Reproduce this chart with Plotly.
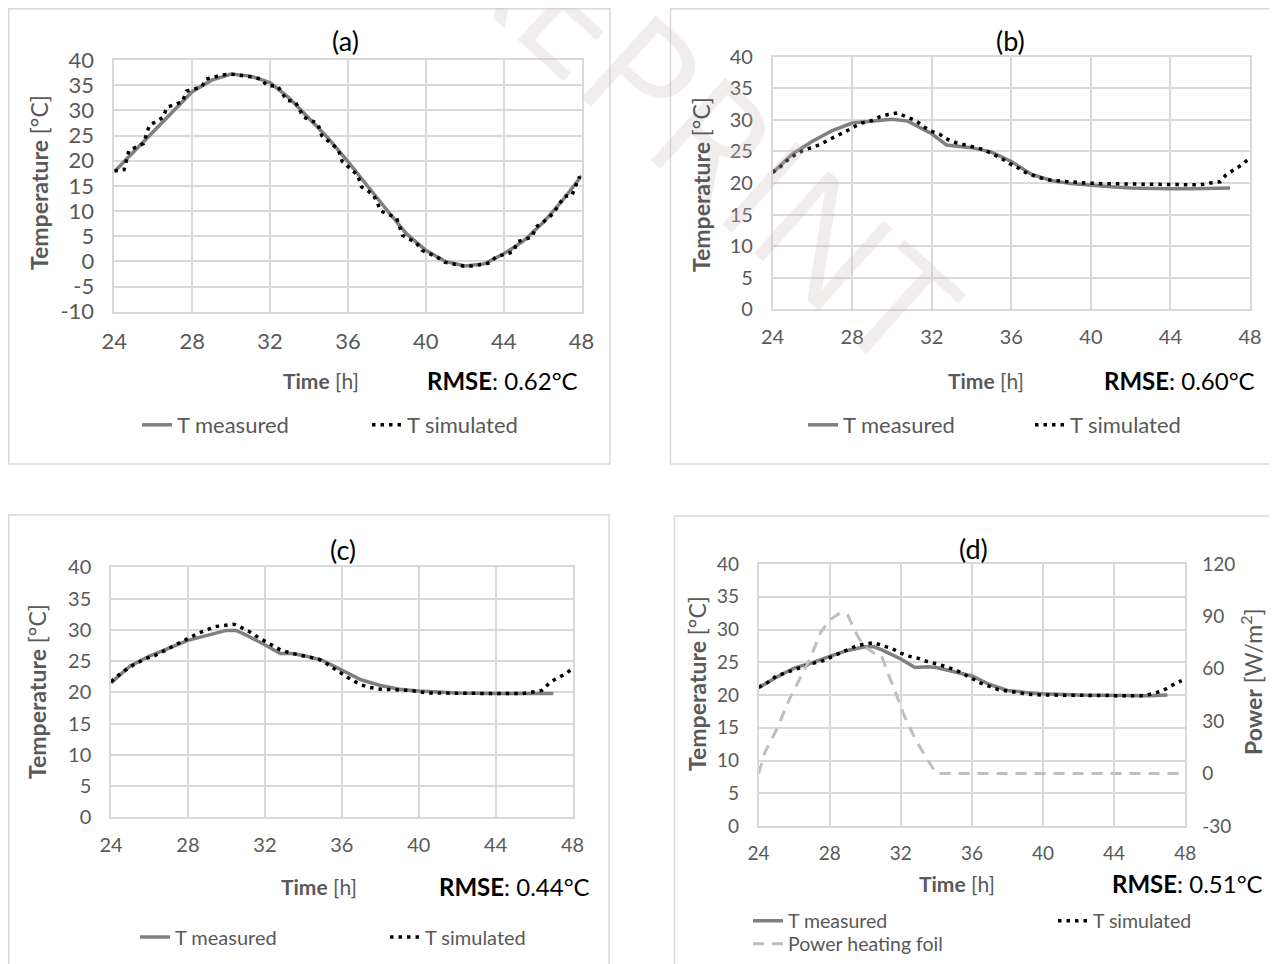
import plotly.graph_objects as go

# The page body has an 8px margin, so the figure is drawn 8px in and the
# reference pixel positions are shifted by OFF below.
OFF = 8
W, H = 1269, 956
FONT = "Lato, Calibri, 'Open Sans', sans-serif"
GRID = "#d9d9d9"
TXT = "#595959"
MEAS_C = "#808080"
SIM_C = "#000000"
POW_C = "#bfbfbf"

# ---------------- data ----------------
time_ticks = [24, 28, 32, 36, 40, 44, 48]
temp_ticks_a = [-10, -5, 0, 5, 10, 15, 20, 25, 30, 35, 40]
temp_ticks = [0, 5, 10, 15, 20, 25, 30, 35, 40]
power_ticks = [-30, 0, 30, 60, 90, 120]

# (a)
a_meas_t = [24, 25, 26, 27, 28, 29, 30, 31, 32, 33, 34, 35, 36, 37, 38, 39, 40, 41, 42, 43, 44, 45, 46, 47, 48]
a_meas = [17.8, 21.8, 25.7, 29.7, 33.7, 36.0, 37.2, 36.8, 35.5, 32.4, 28.4, 24.4, 19.8, 14.9, 10.2, 5.5, 2.2, 0.0,
          -0.9, -0.5, 1.5, 4.0, 7.6, 12.0, 17.0]
a_sim_t = [24.0, 24.5, 24.75, 25.5, 25.8, 26.5, 26.7, 27.5, 27.7, 28.5, 28.7, 29.5, 30.0, 30.6, 31.1, 31.55, 31.85,
           32.4, 32.85, 33.3, 33.7, 34.45, 34.65, 35.5, 35.7, 36.5, 36.7, 37.3, 37.7, 38.5, 38.8, 39.5, 39.8, 40.55,
           41.0, 41.9, 42.45, 43.3, 43.6, 44.5, 44.7, 45.45, 45.65, 46.3, 46.6, 47.1, 47.5, 47.9]
a_sim = [18.0, 18.2, 22.0, 23.4, 27.0, 28.6, 30.6, 31.7, 33.8, 34.7, 36.2, 37.0, 37.2, 36.9, 36.6, 36.2, 34.9,
         34.8, 32.0, 31.7, 28.7, 27.4, 25.0, 22.2, 19.9, 17.1, 14.8, 13.3, 10.0, 8.6, 5.2, 3.7, 2.2, 0.9,
         -0.2, -0.9, -0.9, -0.3, 0.9, 1.9, 3.9, 4.8, 6.8, 8.6, 9.8, 12.9, 13.1, 16.9]

# (b)
b_meas_t = [24, 25, 26, 27, 28, 29, 30, 30.8, 32, 32.75, 34, 35, 36, 37, 38, 39, 40, 41, 42, 43, 44, 45, 46, 47]
b_meas = [21.6, 24.6, 26.6, 28.3, 29.5, 29.8, 30.1, 29.8, 27.8, 26.0, 25.6, 24.9, 23.4, 21.4, 20.4, 19.9, 19.6,
          19.4, 19.2, 19.1, 19.1, 19.1, 19.2, 19.2]
b_sim_t = [24.0, 24.4, 24.7, 25.1, 25.5, 26.0, 26.4, 26.8, 27.3, 27.7, 28.1, 28.5, 29.0, 29.4, 29.8, 30.3, 30.7,
           31.2, 31.5, 31.9, 32.4, 32.8, 33.2, 33.7, 34.1, 34.6, 35.0, 35.5, 35.9, 36.4, 36.8, 37.2, 37.7, 38.1,
           38.7, 39.2, 39.7, 40.5, 42.0, 44.0, 45.5, 46.0, 46.5, 46.8, 47.2, 47.6, 48.0]
b_sim = [21.7, 22.6, 23.5, 24.4, 25.1, 25.7, 26.1, 26.8, 27.5, 28.2, 28.9, 29.5, 29.9, 30.5, 30.85, 31.1, 30.5,
         29.9, 29.1, 28.3, 27.7, 26.9, 26.4, 26.0, 25.65, 25.3, 24.7, 23.9, 23.1, 22.3, 21.5, 21.1, 20.6, 20.4,
         20.2, 20.1, 20.0, 19.9, 19.8, 19.7, 19.7, 20.0, 20.2, 21.3, 22.1, 22.9, 24.0]

# (c)
c_meas_t = [24, 25, 26, 27, 28, 29, 30, 30.5, 31, 32, 32.8, 33.4, 34, 35, 36, 37, 38, 39, 40, 41, 42, 44, 46, 47]
c_meas = [21.5, 24.2, 25.8, 27.0, 28.3, 29.1, 29.9, 29.9, 29.2, 27.6, 26.2, 26.2, 25.9, 25.1, 23.6, 22.0, 21.1,
          20.5, 20.2, 20.0, 19.9, 19.8, 19.8, 19.8]
c_sim_t = [24.0, 24.5, 25.0, 25.4, 25.8, 26.3, 26.7, 27.1, 27.6, 28.0, 28.5, 28.95, 29.4, 29.9, 30.4, 30.75, 31.2,
           31.6, 32.0, 32.4, 32.8, 33.3, 33.8, 34.3, 34.8, 35.2, 35.6, 36.1, 36.5, 37.0, 37.4, 38.0, 39.5, 40.5,
           42.0, 44.0, 45.4, 45.9, 46.4, 46.8, 47.1, 47.6, 48.0]
c_sim = [21.7, 23.0, 24.1, 24.7, 25.4, 25.9, 26.5, 27.1, 27.9, 28.6, 29.4, 29.9, 30.5, 30.7, 30.9, 30.4, 29.7,
         28.9, 28.2, 27.6, 26.8, 26.3, 26.0, 25.7, 25.3, 24.6, 23.8, 22.8, 22.0, 21.2, 20.8, 20.5, 20.3, 19.9,
         19.8, 19.8, 19.8, 20.0, 20.3, 21.5, 22.1, 22.9, 23.8]

# (d)
d_meas_t = [24, 25, 26, 27, 28, 29, 30, 30.5, 31, 32, 32.8, 33.5, 34, 35, 36, 37, 38, 39, 40, 42, 44, 46, 47]
d_meas = [21.1, 22.7, 24.1, 24.9, 25.9, 26.8, 27.35, 27.35, 26.8, 25.5, 24.2, 24.3, 24.2, 23.6, 22.9, 21.6, 20.7,
          20.4, 20.2, 20.0, 19.9, 19.9, 20.0]
d_sim_t = [24.0, 24.5, 25.0, 25.5, 26.0, 26.5, 27.0, 27.5, 28.0, 28.5, 29.0, 29.5, 30.0, 30.5, 31.0, 31.5, 32.0,
           32.5, 33.0, 33.5, 34.1, 34.6, 35.1, 35.6, 36.1, 36.5, 37.0, 37.5, 38.0, 38.6, 39.2, 40.0, 42.0, 44.0,
           45.7, 46.2, 46.7, 47.2, 47.8]
d_sim = [21.2, 21.9, 22.9, 23.4, 23.9, 24.4, 24.8, 25.1, 25.7, 26.4, 27.0, 27.5, 27.8, 28.0, 27.5, 27.1, 26.4,
         25.9, 25.6, 25.1, 24.7, 24.3, 23.8, 23.1, 22.3, 21.8, 21.3, 20.8, 20.6, 20.3, 20.1, 20.0, 19.9, 19.9,
         19.9, 20.2, 20.6, 21.4, 22.2]
d_pow_t = [24.0, 24.35, 25.0, 25.75, 26.4, 26.9, 27.5, 28.0, 28.6, 29.0, 29.45, 29.9, 30.5, 30.9, 31.25, 31.65,
           32.2, 32.8, 33.5, 34.0, 48.0]
d_pow = [0, 12, 25, 43, 56, 66, 81, 88, 92, 91, 81, 73, 69, 68, 58, 48, 33, 20, 8, 0, 0]

rmse_labels = ["0.62°C", "0.60°C", "0.44°C", "0.51°C"]
panel_labels = ["(a)", "(b)", "(c)", "(d)"]

# ---------------- figure ----------------
fig = go.Figure()


def px(p):
    return (p - OFF) / W


def py(p):
    return 1 - (p - OFF) / H


meas_line = dict(color=MEAS_C, width=3.5)
sim_line = dict(color=SIM_C, width=3.5, dash="3.5px,5px")

series = [
    (a_meas_t, a_meas, a_sim_t, a_sim, "x", "y", "legend"),
    (b_meas_t, b_meas, b_sim_t, b_sim, "x2", "y2", "legend2"),
    (c_meas_t, c_meas, c_sim_t, c_sim, "x3", "y3", "legend3"),
    (d_meas_t, d_meas, d_sim_t, d_sim, "x4", "y4", "legend4"),
]
for mt, mv, st, sv, xa, ya, lg in series:
    fig.add_trace(go.Scatter(x=mt, y=mv, mode="lines", name="T measured", line=meas_line,
                             xaxis=xa, yaxis=ya, legend=lg, hoverinfo="skip"))
    fig.add_trace(go.Scatter(x=st, y=sv, mode="lines", name="T simulated", line=sim_line,
                             xaxis=xa, yaxis=ya, legend=lg, hoverinfo="skip"))

fig.add_trace(go.Scatter(x=d_pow_t, y=d_pow, mode="lines", name="Power heating foil",
                         line=dict(color=POW_C, width=3, dash="11px,8px"),
                         xaxis="x4", yaxis="y5", legend="legend5", hoverinfo="skip"))

# plot areas in pixels: (x0, x1, ytop, ybottom)
areas = [
    (114.3, 581.6, 60.0, 311.7),
    (772.6, 1250.0, 56.7, 309.3),
    (111.0, 572.6, 567.3, 817.3),
    (758.6, 1185.2, 564.0, 826.0),
]
yranges = [[-10, 40], [0, 40], [0, 40], [0, 40]]
yticks = [temp_ticks_a, temp_ticks, temp_ticks, temp_ticks]
tick_sizes = [22, 20, 20, 19]

layout_axes = {}
for i, (x0, x1, yt, yb) in enumerate(areas):
    sfx = "" if i == 0 else str(i + 1)
    tf = dict(family=FONT, size=tick_sizes[i], color=TXT)
    common = dict(showgrid=True, gridcolor=GRID, gridwidth=1.5, showline=True, mirror=True,
                  linecolor=GRID, linewidth=1.5, zeroline=False, ticks="",
                  tickfont=tf, fixedrange=True)
    layout_axes["xaxis" + sfx] = dict(common, domain=[px(x0), px(x1)], range=[24, 48],
                                      tickmode="array", tickvals=time_ticks,
                                      ticktext=[str(v) for v in time_ticks],
                                      anchor="y" + sfx, ticklabelstandoff=9)
    layout_axes["yaxis" + sfx] = dict(common, domain=[py(yb), py(yt)], range=yranges[i],
                                      tickmode="array", tickvals=yticks[i],
                                      ticktext=[str(v) for v in yticks[i]],
                                      anchor="x" + sfx, ticklabelstandoff=14)

layout_axes["yaxis5"] = dict(overlaying="y4", anchor="x4", side="right", range=[-30, 120],
                             tickmode="array", tickvals=power_ticks,
                             ticktext=[str(v) for v in power_ticks],
                             showgrid=False, showline=False, zeroline=False, ticks="",
                             tickfont=dict(family=FONT, size=tick_sizes[3], color=TXT),
                             ticklabelstandoff=16, fixedrange=True)

# ---------------- annotations ----------------
ann = []
# faint watermark (drawn first)
ann.append(dict(x=px(670), y=py(95), xref="paper", yref="paper", text="PREPRINT", showarrow=False,
                textangle=42, font=dict(family="'Open Sans', sans-serif", size=155,
                                          color="rgba(200,190,185,0.28)"),
                xanchor="center", yanchor="middle"))

title_pos = [(345, 41), (1010, 41), (343, 549), (973, 548)]
for (x, y), lab in zip(title_pos, panel_labels):
    ann.append(dict(x=px(x), y=py(y), xref="paper", yref="paper", text=lab, showarrow=False,
                    font=dict(family=FONT, size=27, color="#000000"), xanchor="center", yanchor="middle"))

time_pos = [(321, 380), (986, 380), (319, 886), (957, 883)]
for x, y in time_pos:
    ann.append(dict(x=px(x), y=py(y), xref="paper", yref="paper", text="<b>Time</b> [h]", showarrow=False,
                    font=dict(family=FONT, size=21, color=TXT), xanchor="center", yanchor="middle"))

rmse_pos = [(502, 380), (1179, 380), (514, 886), (1187, 883)]
for (x, y), r in zip(rmse_pos, rmse_labels):
    ann.append(dict(x=px(x), y=py(y), xref="paper", yref="paper", text="<b>RMSE</b>: " + r, showarrow=False,
                    font=dict(family=FONT, size=24, color="#000000"), xanchor="center", yanchor="middle"))

ytitle_pos = [(39, 183), (701, 185), (37, 692), (697, 684)]
for x, y in ytitle_pos:
    ann.append(dict(x=px(x), y=py(y), xref="paper", yref="paper", text="<b>Temperature</b> [°C]",
                    showarrow=False, textangle=-90,
                    font=dict(family=FONT, size=23, color=TXT), xanchor="center", yanchor="middle"))
ann.append(dict(x=px(1251), y=py(682), xref="paper", yref="paper", text="<b>Power</b> [W/m<sup>2</sup>]",
                showarrow=False, textangle=-90,
                font=dict(family=FONT, size=23, color=TXT), xanchor="center", yanchor="middle"))

# ---------------- frames ----------------
shapes = []
frames = [(8.75, 610, 8.75, 464), (670.5, 1300, 8.75, 464), (8.75, 609, 515, 990), (674.5, 1300, 516, 990)]
for x0, x1, y0, y1 in frames:
    shapes.append(dict(type="rect", xref="paper", yref="paper", x0=px(x0), x1=px(x1), y0=py(y1), y1=py(y0),
                       line=dict(color=GRID, width=1.5), fillcolor="rgba(0,0,0,0)", layer="below"))

# ---------------- legends ----------------
def leg(x, y, size, ew=None):
    d = dict(orientation="h", xanchor="left", yanchor="middle", bgcolor="rgba(0,0,0,0)",
             font=dict(family=FONT, size=size, color=TXT),
             itemclick=False, itemdoubleclick=False, x=px(x), y=py(y))
    if ew is not None:
        d.update(entrywidthmode="pixels", entrywidth=ew)
    return d


legends = dict(
    legend=leg(137, 425, 22, 185),
    legend2=leg(803, 425, 22, 182),
    legend3=leg(135, 937, 20, 205),
    legend4=leg(748, 921, 19.5, 260),
    legend5=leg(748, 944, 19.5),
)

fig.update_layout(
    width=W, height=H,
    margin=dict(l=0, r=0, t=0, b=0, autoexpand=False),
    paper_bgcolor="white", plot_bgcolor="white",
    font=dict(family=FONT, color=TXT),
    annotations=ann, shapes=shapes,
    **layout_axes, **legends,
)

fig.write_html("out.html")
